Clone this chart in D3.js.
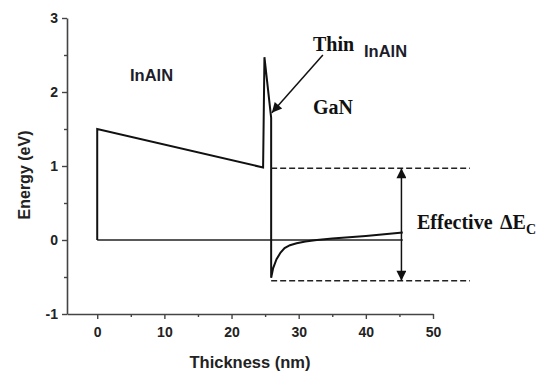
<!DOCTYPE html>
<html>
<head>
<meta charset="utf-8">
<script src="https://cdn.jsdelivr.net/npm/d3@7"></script>
<style>
  html, body { margin: 0; padding: 0; background: #fff; }
  svg { display: block; }
  .tick text { font-family: "Liberation Sans", Arial, sans-serif; font-weight: bold; font-size: 14px; fill: #222; }
</style>
</head>
<body>
<svg id="chart" width="549" height="374"></svg>
<script>
// ---- data (thickness in nm, energy in eV) ----
const xMajorTicks = [0, 10, 20, 30, 40, 50];
const xMinorTicks = [5, 15, 25, 35, 45];
const yMajorTicks = [-1, 0, 1, 2, 3];
const yMinorTicks = [-0.5, 0.5, 1.5, 2.5];

// conduction band: InAlN barrier, thin InAlN spike, GaN well
const bandX = [0, 0, 24.7, 24.9, 25.9, 25.9, 26.2, 26.7, 27.3, 27.9, 28.7, 29.7, 31.0, 32.7, 35.0, 40.0, 45.5];
const bandE = [0, 1.5, 0.98, 2.47, 1.65, -0.51, -0.38, -0.26, -0.17, -0.11, -0.07, -0.045, -0.02, 0.0, 0.02, 0.055, 0.1];

// reference level at 0 eV
const zeroX = [0, 45.5];
const zeroE = [0, 0];

// dashed reference levels
const dashX = [25.9, 55.5];
const upperDashE = 0.97;
const lowerDashE = -0.55;

// effective ΔEc double arrow
const arrowX = 45.3;
const arrowTopE = 0.97;
const arrowBottomE = -0.55;

// annotation arrow "Thin InAlN" -> spike
const noteFrom = [33.6, 2.5];
const noteTo = [26.0, 1.72];

const svg = d3.select("#chart");

const x = d3.scaleLinear().domain([-4.5, 50]).range([67, 433]);
const y = d3.scaleLinear().domain([-1, 3]).range([314, 18]);

const axisColor = "#444";
const fmt = d => String(d);

// ---- axes ----
svg.append("g").attr("transform", `translate(0,${y(-1)})`)
  .call(d3.axisBottom(x).tickValues(xMajorTicks).tickSize(5).tickSizeOuter(0).tickPadding(8).tickFormat(fmt));
svg.append("g").attr("transform", `translate(0,${y(-1)})`)
  .call(d3.axisBottom(x).tickValues(xMinorTicks).tickSize(3).tickSizeOuter(0).tickFormat(""))
  .select(".domain").remove();

svg.append("g").attr("transform", `translate(${x(-4.5)},0)`)
  .call(d3.axisLeft(y).tickValues(yMajorTicks).tickSize(5).tickSizeOuter(0).tickPadding(4).tickFormat(fmt));
svg.append("g").attr("transform", `translate(${x(-4.5)},0)`)
  .call(d3.axisLeft(y).tickValues(yMinorTicks).tickSize(3).tickSizeOuter(0).tickFormat(""))
  .select(".domain").remove();

svg.selectAll(".domain").attr("stroke", axisColor).attr("stroke-width", 1.6);
svg.selectAll(".tick line").attr("stroke", axisColor).attr("stroke-width", 1.4);

// axis titles
svg.append("text")
  .attr("x", 250).attr("y", 368)
  .attr("text-anchor", "middle")
  .style("font-family", "'Liberation Sans', Arial, sans-serif")
  .style("font-weight", "bold").style("font-size", "16.5px").style("fill", "#222")
  .text("Thickness (nm)");

svg.append("text")
  .attr("transform", "translate(30,175) rotate(-90)")
  .attr("text-anchor", "middle")
  .style("font-family", "'Liberation Sans', Arial, sans-serif")
  .style("font-weight", "bold").style("font-size", "16px").style("fill", "#222")
  .text("Energy (eV)");

// ---- lines ----
const line = d3.line().x(d => x(d[0])).y(d => y(d[1]));

svg.append("path")
  .datum(zeroX.map((v, i) => [v, zeroE[i]]))
  .attr("d", line).attr("fill", "none").attr("stroke", "#222").attr("stroke-width", 1.3);

svg.append("path")
  .datum(bandX.map((v, i) => [v, bandE[i]]))
  .attr("d", line)
  .attr("fill", "none").attr("stroke", "#111").attr("stroke-width", 2).attr("stroke-linejoin", "miter");

[upperDashE, lowerDashE].forEach(e => {
  svg.append("path")
    .datum(dashX.map(v => [v, e]))
    .attr("d", line).attr("fill", "none").attr("stroke", "#222")
    .attr("stroke-width", 1.6).attr("stroke-dasharray", "6,3");
});

// arrowheads
const defs = svg.append("defs");
defs.append("marker").attr("id", "head")
  .attr("viewBox", "0 0 10 10").attr("refX", 10).attr("refY", 5)
  .attr("markerWidth", 13).attr("markerHeight", 10).attr("markerUnits", "userSpaceOnUse")
  .attr("orient", "auto-start-reverse")
  .append("path").attr("d", "M0,0 L10,5 L0,10 Z").attr("fill", "#111");

svg.append("line")
  .attr("x1", x(arrowX)).attr("x2", x(arrowX))
  .attr("y1", y(arrowTopE)).attr("y2", y(arrowBottomE))
  .attr("stroke", "#111").attr("stroke-width", 1.5)
  .attr("marker-start", "url(#head)").attr("marker-end", "url(#head)");

svg.append("line")
  .attr("x1", x(noteFrom[0])).attr("y1", y(noteFrom[1]))
  .attr("x2", x(noteTo[0])).attr("y2", y(noteTo[1]))
  .attr("stroke", "#111").attr("stroke-width", 1.5)
  .attr("marker-end", "url(#head)");

// ---- labels ----
const sans = "'Liberation Sans', Arial, sans-serif";
const serif = "'Liberation Serif', 'Times New Roman', serif";

function label(tx, ty, txt, family, size, weight, color) {
  return svg.append("text").attr("x", tx).attr("y", ty)
    .style("font-family", family).style("font-size", size + "px")
    .style("font-weight", weight).style("fill", color || "#111").text(txt);
}

label(130, 81, "InAlN", sans, 16.5, "bold", "#1c1c2a");
label(313, 51, "Thin", serif, 20, "bold");
label(364, 57, "InAlN", sans, 16.5, "bold", "#1c1c2a");
label(313, 114, "GaN", serif, 20, "bold");

const eff = svg.append("text").attr("x", 417).attr("y", 229)
  .style("font-family", serif).style("font-weight", "bold").style("fill", "#111");
eff.append("tspan").style("font-size", "20px").text("Effective");
eff.append("tspan").attr("x", 500).style("font-size", "20px").text("ΔE");
eff.append("tspan").attr("dy", 5).style("font-size", "14px").text("C");
</script>
</body>
</html>
